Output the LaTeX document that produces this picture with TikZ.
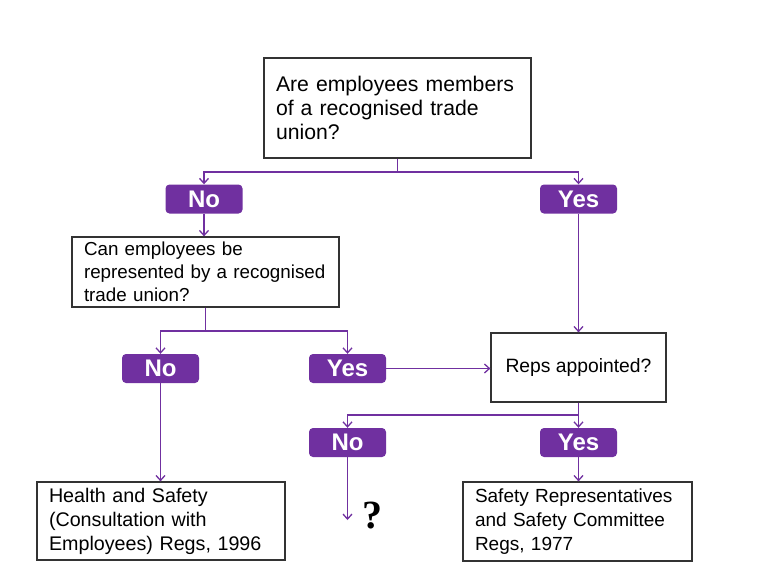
\documentclass[tikz,border=0pt]{standalone}
\usepackage{fontspec}
\setmainfont{Liberation Sans}
\newfontfamily\qmarkfont{Liberation Serif}
\usetikzlibrary{positioning,arrows.meta}
\definecolor{unionpurple}{HTML}{7030A0}

\begin{document}
\begin{tikzpicture}[
  x=1pt, y=-1pt,
  qbox/.style={draw=black!80,line width=1.2pt,fill=white,align=left,
    inner xsep=12pt,inner ysep=2pt,font=\fontsize{#1}{24}\selectfont},
  qbox/.default=19,
  ans/.style={fill=unionpurple,rounded corners=4pt,text=white,
    minimum width=77pt,minimum height=29pt,inner sep=0pt,
    font=\fontsize{24}{26}\selectfont\bfseries},
  conn/.style={draw=unionpurple,line width=1.8pt,
    -{Straight Barb[length=5pt,width=9pt,line width=1.3pt]}},
]
\useasboundingbox (0,0) rectangle (768,576);

\node[qbox=21.2,text width=243pt,minimum height=100pt] (union) at (397.5,108)
  {Are employees members\\of a recognised trade\\union?};
\node[ans] (no1) at (204,199) {No};
\node[ans] (yes1) at (578.5,199) {Yes};

\node[qbox,font=\fontsize{18.8}{23}\selectfont,text width=243pt,minimum height=70pt]
  (canrep) at (205.5,272)
  {Can employees be\\represented by a recognised\\trade union?};
\node[ans] (no2) at (160.5,368.5) {No};
\node[ans] (yes2) at (347.5,368.5) {Yes};

\node[qbox=19.3,align=center,minimum width=175pt,minimum height=69pt] (reps) at (578.5,367.5)
  {Reps appointed?};
\node[ans] (no3) at (347.5,442.5) {No};
\node[ans] (yes3) at (578.5,442.5) {Yes};

\node[qbox=19.7,text width=224pt,minimum height=78pt] (hsce) at (161,521)
  {Health and Safety\\(Consultation with\\Employees) Regs, 1996};
\node[qbox,text width=205pt,minimum height=79pt] (srsc) at (577.5,521.5)
  {Safety Representatives\\and Safety Committee\\Regs, 1977};
\coordinate (unknown) at (347.5,520);
\node[font=\qmarkfont\fontsize{40}{40}\selectfont\bfseries] (qmark) at (372,516) {?};

% first question
\draw[conn] (union.south) -- ++(0,13) -| (no1.north);
\draw[conn] (union.south) -- ++(0,13) -| (yes1.north);
\draw[conn] (no1.south) -- (no1 |- canrep.north);
\draw[conn] (yes1.south) -- (yes1 |- reps.north);

% second question
\draw[conn] (canrep.south) -- ++(0,23) -| (no2.north);
\draw[conn] (canrep.south) -- ++(0,23) -| (yes2.north);
\draw[conn] (no2.south) -- (no2 |- hsce.north);
\draw[conn] (yes2.east) -- (yes2 -| reps.west);

% reps
\draw[conn] (reps.south) -- ++(0,12) -| (no3.north);
\draw[conn] (reps.south) -- ++(0,12) -| (yes3.north);
\draw[conn] (no3.south) -- (unknown);
\draw[conn] (yes3.south) -- (yes3 |- srsc.north);

\end{tikzpicture}
\end{document}
